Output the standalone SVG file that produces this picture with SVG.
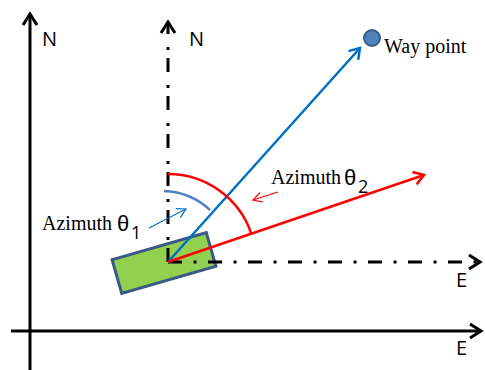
<svg xmlns="http://www.w3.org/2000/svg" width="485" height="370" viewBox="0 0 485 370">
<style>
.axis{fill:none;stroke:#000;stroke-width:3}
.dd{fill:none;stroke:#000;stroke-width:3}
.lbl{font-family:"Open Sans","Liberation Sans",sans-serif;font-size:20px;fill:#000}
.ser{font-family:"Liberation Serif","Times New Roman",serif;font-size:20px;fill:#000}
.th{font-family:"Liberation Sans",Arial,sans-serif;font-size:22px}
.sub{font-family:"Open Sans","Liberation Sans",sans-serif;font-size:18px}
</style>
<defs>
<marker id="ahK" viewBox="-16 -10 20 20" refX="0" refY="0" markerWidth="20" markerHeight="20" orient="auto" markerUnits="userSpaceOnUse" overflow="visible"><path d="M-11,-7 L0,0 L-11,7" fill="none" stroke="#000" stroke-width="3"/></marker>
<marker id="ahB" viewBox="-14 -10 18 20" refX="0" refY="0" markerWidth="18" markerHeight="20" orient="auto" markerUnits="userSpaceOnUse" overflow="visible"><path d="M-10,-6.5 L0,0 L-10,6.5" fill="none" stroke="#0070C0" stroke-width="2.5"/></marker>
<marker id="ahR" viewBox="-14 -10 18 20" refX="0" refY="0" markerWidth="18" markerHeight="20" orient="auto" markerUnits="userSpaceOnUse" overflow="visible"><path d="M-10,-6.5 L0,0 L-10,6.5" fill="none" stroke="#FF0000" stroke-width="2.5"/></marker>
<marker id="ahBs" viewBox="-12 -8 14 16" refX="0" refY="0" markerWidth="14" markerHeight="16" orient="auto" markerUnits="userSpaceOnUse" overflow="visible"><path d="M-9,-5 L0,0 L-9,5" fill="none" stroke="#0070C0" stroke-width="1.2"/></marker>
<marker id="ahRs" viewBox="-12 -8 14 16" refX="0" refY="0" markerWidth="14" markerHeight="16" orient="auto" markerUnits="userSpaceOnUse" overflow="visible"><path d="M-9,-5 L0,0 L-9,5" fill="none" stroke="#FF0000" stroke-width="1.2"/></marker>
</defs>
<rect width="485" height="370" fill="#fff"/>

<g id="vehicle">
<rect x="-49" y="-17.5" width="98" height="35" transform="translate(164,263) rotate(-16)" fill="#92D050" stroke="#3B5A86" stroke-width="3"/>
</g>

<g id="connectors">
<path id="axis-N" class="axis" d="M30,370 V14" marker-end="url(#ahK)"/>
<path id="axis-E" class="axis" d="M11,331 H481" marker-end="url(#ahK)"/>
<path id="local-N" class="dd" d="M168,262 V22" stroke-dasharray="14 8 3 13" marker-end="url(#ahK)"/>
<path id="local-E" class="dd" d="M168,262 H480" stroke-dasharray="14 11.5 3 11.5" marker-end="url(#ahK)"/>
<path id="to-waypoint" d="M168,262 L360,48" fill="none" stroke="#0070C0" stroke-width="2.5" marker-end="url(#ahB)"/>
<path id="heading" d="M168,262 L424,175" fill="none" stroke="#FF0000" stroke-width="2.5" marker-end="url(#ahR)"/>
<path id="arc-theta1" d="M164,191 A71,71 0 0 1 210,210" fill="none" stroke="#4F81BD" stroke-width="2.5"/>
<path id="arc-theta2" d="M168,174 A88,88 0 0 1 251.4,233.8" fill="none" stroke="#FF0000" stroke-width="2.5"/>
<path id="ptr-theta1" d="M149,228 L186,209" fill="none" stroke="#0070C0" stroke-width="1.2" marker-end="url(#ahBs)"/>
<path id="ptr-theta2" d="M278,192 L253,200" fill="none" stroke="#FF0000" stroke-width="1.2" marker-end="url(#ahRs)"/>
</g>

<g id="waypoint">
<circle cx="372" cy="38" r="8" fill="#4F81BD" stroke="#385D8A" stroke-width="2"/>
<text class="ser" x="384" y="53">Way point</text>
</g>

<g id="labels">
<text class="lbl" x="42" y="46">N</text>
<text class="lbl" x="189" y="46">N</text>
<text class="lbl" x="456" y="287">E</text>
<text class="lbl" x="456" y="355">E</text>
<g id="label-theta1">
<text class="ser" x="42" y="230">Azimuth</text>
<text class="th" x="117" y="231">θ</text>
<text class="sub" x="131" y="239">1</text>
</g>
<g id="label-theta2">
<text class="ser" x="271" y="184">Azimuth</text>
<text class="th" x="344" y="185">θ</text>
<text class="sub" x="358" y="193">2</text>
</g>
</g>
</svg>
